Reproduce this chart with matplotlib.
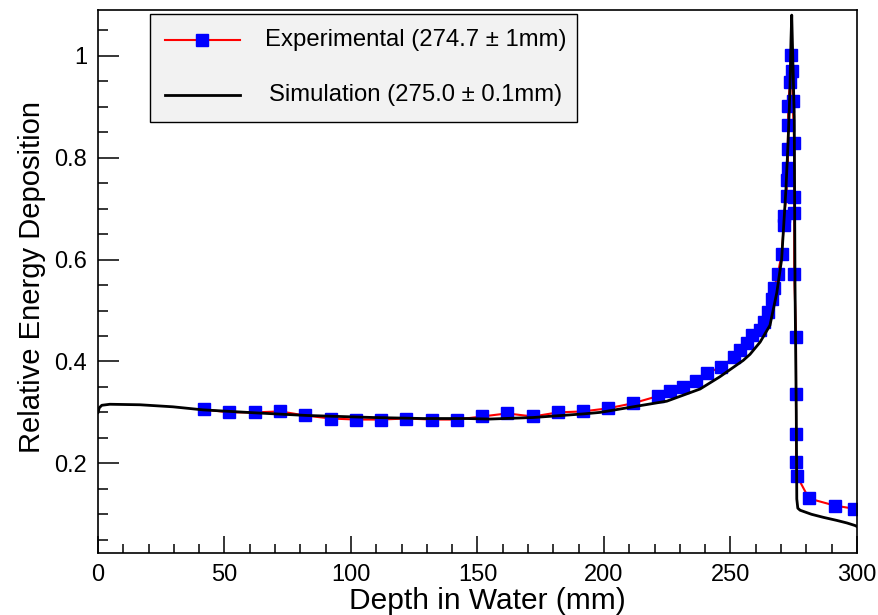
import matplotlib
matplotlib.use("Agg")
import matplotlib.pyplot as plt
from matplotlib.ticker import MultipleLocator, FixedLocator, FixedFormatter
from matplotlib.lines import Line2D
from matplotlib.patches import Rectangle

plt.rcParams['font.family'] = ['Liberation Sans', 'DejaVu Sans']

# ---------------- data ----------------
exp_depth = [41.9, 51.8, 62.0, 72.0, 81.8, 92.0, 102.0, 111.9, 121.7, 132.0,
             141.9, 151.8, 161.7, 171.9, 181.8, 191.7, 201.6, 211.5, 221.3, 226.0,
             231.2, 236.4, 240.8, 246.1, 251.3, 253.9, 256.5, 258.4, 261.7, 263.2,
             265.0, 266.3, 267.2, 268.7, 270.2, 271.1, 271.1, 272.2, 272.2, 272.8,
             272.6, 272.8, 272.8, 273.5, 273.9, 274.4, 274.6, 275.2, 275.2, 275.2,
             275.2, 275.9, 275.9, 275.9, 275.9, 276.3, 281.0, 291.3, 298.8]
exp_dose = [0.306, 0.300, 0.300, 0.302, 0.294, 0.288, 0.286, 0.286, 0.288, 0.286,
            0.286, 0.292, 0.298, 0.292, 0.300, 0.302, 0.308, 0.318, 0.332, 0.342,
            0.349, 0.361, 0.377, 0.389, 0.408, 0.422, 0.436, 0.452, 0.462, 0.478,
            0.497, 0.522, 0.544, 0.571, 0.611, 0.668, 0.686, 0.725, 0.756, 0.779,
            0.817, 0.864, 0.902, 0.948, 1.002, 0.971, 0.912, 0.828, 0.722, 0.691,
            0.571, 0.448, 0.337, 0.258, 0.203, 0.175, 0.131, 0.117, 0.111]

sim_depth = [0.0, 0.5, 1.5, 4.7, 16.6, 29.6, 41.5, 62.7, 82.5, 108.8,
             128.5, 145.7, 155.0, 172.0, 191.7, 198.4, 211.5, 224.8, 238.0, 245.8,
             255.0, 257.7, 261.7, 265.6, 268.3, 270.2, 271.9, 272.8, 273.5, 273.9,
             274.2, 274.6, 275.2, 275.5, 276.0, 276.2, 276.6, 277.5, 282.0, 286.7,
             292.0, 296.0, 299.2, 300.0]
sim_dose = [0.300, 0.309, 0.314, 0.316, 0.315, 0.311, 0.305, 0.299, 0.294, 0.290,
            0.288, 0.288, 0.287, 0.290, 0.297, 0.300, 0.311, 0.322, 0.346, 0.370,
            0.402, 0.414, 0.438, 0.471, 0.535, 0.600, 0.737, 0.835, 0.933, 1.030,
            1.080, 1.000, 0.880, 0.550, 0.300, 0.130, 0.112, 0.108, 0.100, 0.094,
            0.088, 0.083, 0.078, 0.076]

x_ticks = [0, 50, 100, 150, 200, 250, 300]
x_tick_labels = ["0", "50", "100", "150", "200", "250", "300"]
y_ticks = [0.2, 0.4, 0.6, 0.8, 1.0]
y_tick_labels = ["0.2", "0.4", "0.6", "0.8", "1"]

exp_label = "Experimental (274.7 \u00b1 1mm)"
sim_label = "Simulation (275.0 \u00b1 0.1mm)"
x_title = "Depth in Water (mm)"
y_title = "Relative Energy Deposition"

# ---------------- figure ----------------
fig = plt.figure(figsize=(8.79, 6.15), dpi=100)
ax = fig.add_axes([98/879, 1-553/615, (857-98)/879, (553-10)/615])

ax.plot(exp_depth, exp_dose, color='red', lw=1.5, marker='s', ms=8.5,
        mfc='#0000ff', mec='#0000ff', zorder=2)
ax.plot(sim_depth, sim_dose, color='black', lw=2.0, zorder=3)

ax.set_xlim(0, 300)
ax.set_ylim(0.024, 1.09)

ax.xaxis.set_major_locator(FixedLocator(x_ticks))
ax.xaxis.set_major_formatter(FixedFormatter(x_tick_labels))
ax.xaxis.set_minor_locator(MultipleLocator(10))
ax.yaxis.set_major_locator(FixedLocator(y_ticks))
ax.yaxis.set_major_formatter(FixedFormatter(y_tick_labels))
ax.yaxis.set_minor_locator(MultipleLocator(0.05))

ax.tick_params(axis='both', which='both', direction='in', top=False, right=False,
               labelsize=17, colors='black')
ax.tick_params(axis='x', which='major', length=12, width=1.1, pad=8)
ax.tick_params(axis='x', which='minor', length=6.5, width=1.1)
ax.tick_params(axis='y', which='major', length=15, width=1.1, pad=8)
ax.tick_params(axis='y', which='minor', length=7.5, width=1.1)
for s in ax.spines.values():
    s.set_linewidth(1.2)

ax.text(0.5125, -0.088, x_title, transform=ax.transAxes, ha='center', va='center',
        fontsize=21.5)
ax.text(-0.087, 0.508, y_title, transform=ax.transAxes, ha='center', va='center',
        rotation=90, fontsize=21)

# ---------------- legend ----------------
lx0, lx1 = (150-98)/759, (577-98)/759
ly0, ly1 = 1-(122-10)/543, 1-(14-10)/543
ax.add_patch(Rectangle((lx0, ly0), lx1-lx0, ly1-ly0, transform=ax.transAxes,
                       facecolor='#f2f2f2', edgecolor='black', lw=1.0, zorder=5))
ey = 1-(40-10)/543
sy = 1-(95-10)/543
ax.add_line(Line2D([(165-98)/759, (240-98)/759], [ey, ey], transform=ax.transAxes,
                   color='red', lw=1.5, zorder=6))
ax.add_line(Line2D([(202-98)/759], [ey], transform=ax.transAxes, marker='s', ms=8.5,
                   mfc='#0000ff', mec='#0000ff', lw=0, zorder=7))
ax.add_line(Line2D([(165-98)/759, (240-98)/759], [sy, sy], transform=ax.transAxes,
                   color='black', lw=2.0, zorder=6))
ax.text((416-98)/759, ey, exp_label, transform=ax.transAxes, ha='center',
        va='center', fontsize=17.2, zorder=7)
ax.text((416-98)/759, sy, sim_label, transform=ax.transAxes, ha='center',
        va='center', fontsize=17.2, zorder=7)

fig.savefig("out.png", dpi=100)
